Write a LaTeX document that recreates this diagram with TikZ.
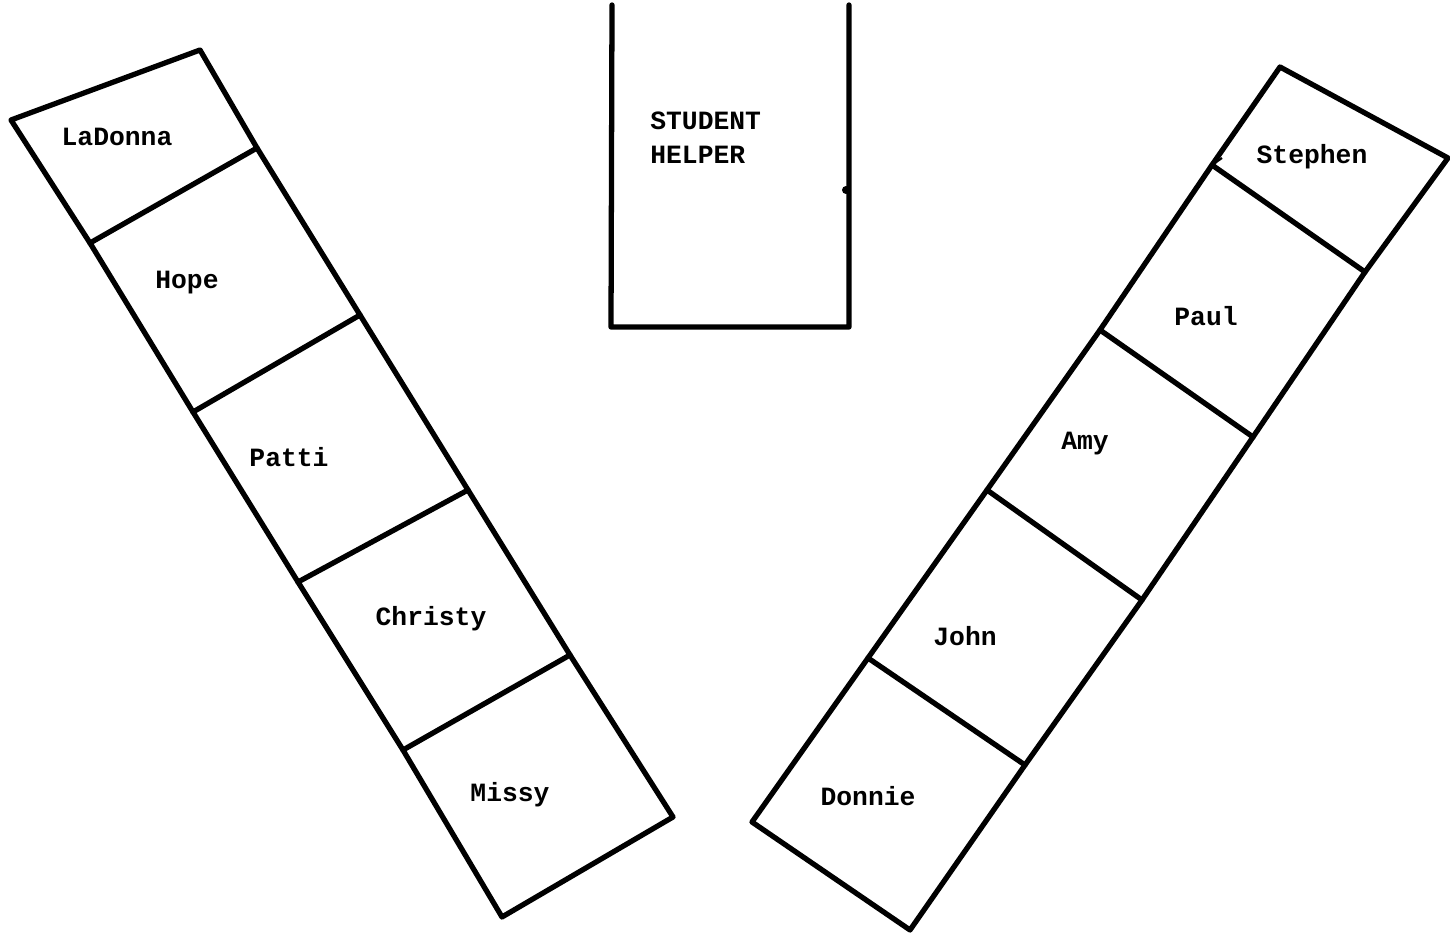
\documentclass[tikz,border=0pt]{standalone}
\usepackage{fontspec}
\setmonofont{Liberation Mono}
\usetikzlibrary{positioning}
\tikzset{
  desk/.style={line width=3pt,line join=round,line cap=round},
  seat/.style={font=\ttfamily\bfseries\fontsize{15}{19}\selectfont,inner sep=0pt},
}

\begin{document}
\begin{tikzpicture}[x=0.02cm,y=-0.02cm]
\useasboundingbox (0,0) rectangle (1450,935);
% left row of desks
\foreach \x/\y [count=\i from 0] in {11/120,90/243,193/412,298/582,403/750,502/917}
  \coordinate (A\i) at (\x,\y);
\foreach \x/\y [count=\i from 0] in {200/50,257/148,360/315,468/490,570/655,673/817}
  \coordinate (B\i) at (\x,\y);
\draw[desk] (A0) -- (A1) -- (A2) -- (A3) -- (A4) -- (A5) -- (B5) -- (B4) -- (B3) -- (B2) -- (B1) -- (B0) -- cycle;
\foreach \i in {1,...,4} \draw[desk] (A\i) -- (B\i);
% right row of desks
\foreach \x/\y [count=\i from 0] in {1280/67,1212/165,1100/330,987/490,868/658,752/822}
  \coordinate (C\i) at (\x,\y);
\foreach \x/\y [count=\i from 0] in {1448/158,1365/272,1253/437,1142/600,1025/765,910/930}
  \coordinate (D\i) at (\x,\y);
\draw[desk] (C0) -- (C1) -- (C2) -- (C3) -- (C4) -- (C5) -- (D5) -- (D4) -- (D3) -- (D2) -- (D1) -- (D0) -- cycle;
\foreach \i in {1,...,4} \draw[desk] (C\i) -- (D\i);
\coordinate (tick) at (1222,158);
\draw[line width=1.2pt] (C1) -- (tick);
% helper's desk
\coordinate (h1) at (612,5);
\coordinate (h2) at (611,327);
\coordinate (h3) at (849,327);
\coordinate (h4) at (849,5);
\draw[desk] (h1) -- (h2) -- (h3) -- (h4);
\fill (846,190) circle (4);
% names
\node[seat] (ladonna) at (117,137) {LaDonna};
\node[seat] (hope) at (187,283) {Hope};
\node[seat] (patti) at (289,457) {Patti};
\node[seat] (christy) at (431,619) {Christy};
\node[seat] (missy) at (510,795) {Missy};
\node[seat] (stephen) at (1312,157) {Stephen};
\node[seat] (paul) at (1206,316) {Paul};
\node[seat] (amy) at (1085,444) {Amy};
\node[seat] (john) at (965,636) {John};
\node[seat] (donnie) at (868,796) {Donnie};
\node[seat,align=left,anchor=north west] (helper) at (650,112) {STUDENT\\HELPER};
\end{tikzpicture}
\end{document}
